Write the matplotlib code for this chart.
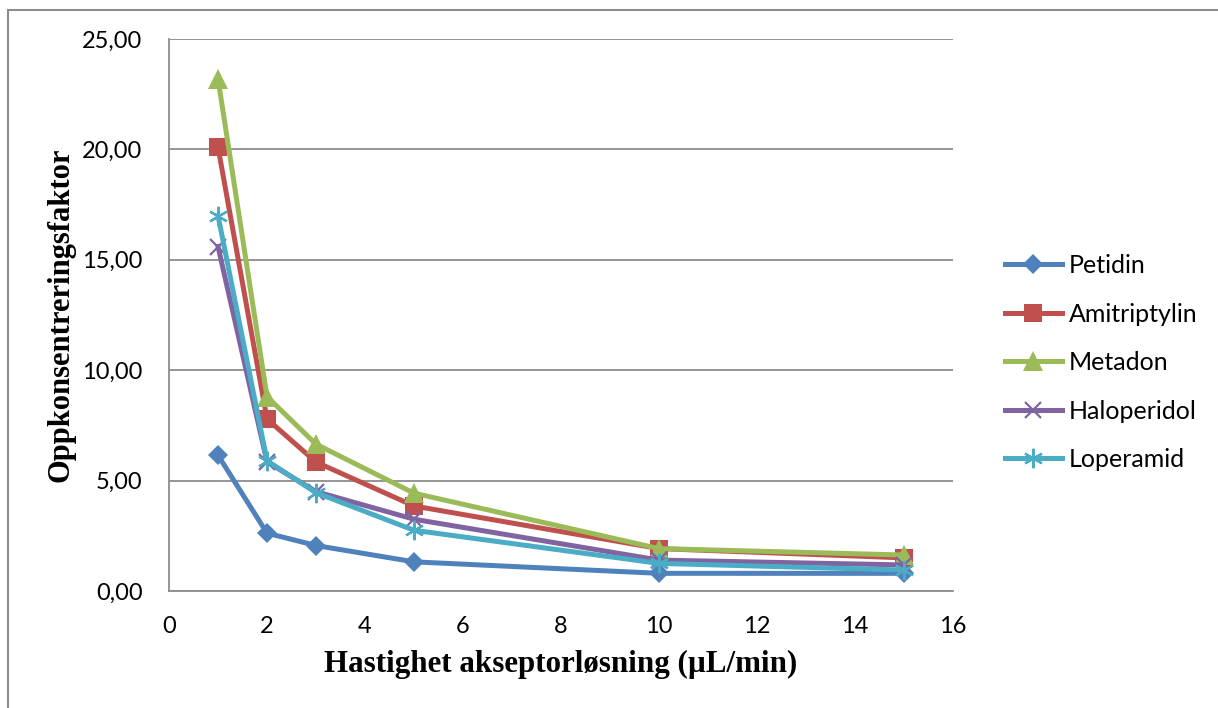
import matplotlib.pyplot as plt
from matplotlib.ticker import FuncFormatter, MultipleLocator
from matplotlib.patches import Rectangle

# ----------------------------------------------------------------------------

x = [1, 2, 3, 5, 10, 15]

petidin = [6.15, 2.62, 2.06, 1.32, 0.80, 0.80]
amitriptylin = [20.1, 7.79, 5.84, 3.85, 1.92, 1.50]
metadon = [23.2, 8.80, 6.65, 4.43, 1.92, 1.63]
haloperidol = [15.6, 5.85, 4.50, 3.25, 1.40, 1.18]
loperamid = [17.0, 5.90, 4.45, 2.75, 1.25, 0.95]

series = [
    ("Petidin", petidin, "#4F81BD", "D", 10),
    ("Amitriptylin", amitriptylin, "#C0504D", "s", 13),
    ("Metadon", metadon, "#9BBB59", "^", 14),
    ("Haloperidol", haloperidol, "#8064A2", "x", 12),
    ("Loperamid", loperamid, "#4BACC6", (6, 2, 0), 14),
]

# ----------------------------------------------------------------------------

fig = plt.figure(figsize=(12.18, 7.08), dpi=100)
# outer chart border (runs off the right and bottom edges)
fig.patches.append(Rectangle((8 / 1218, -0.1), 1.2, 1.1 - 10 / 708,
                             transform=fig.transFigure, fill=False,
                             edgecolor="#8c8c8c", linewidth=1.5))

ax = fig.add_axes([169 / 1218, 1 - 591 / 708, (953 - 169) / 1218, (591 - 39) / 708])

for name, vals, col, mk, ms in series:
    mew = 1.6 if mk in ("x", (6, 2, 0)) else 0
    ax.plot(x, vals, color=col, linewidth=3.6, marker=mk, markersize=ms,
            markeredgewidth=mew, markeredgecolor=col, label=name)

ax.set_xlim(0, 16)
ax.set_ylim(0, 25)
ax.xaxis.set_major_locator(MultipleLocator(2))
ax.yaxis.set_major_locator(MultipleLocator(5))
ax.yaxis.set_major_formatter(FuncFormatter(lambda v, p: f"{v:.2f}".replace(".", ",")))
ax.grid(axis="y", color="#8c8c8c", linewidth=1.3)
ax.set_axisbelow(True)
for s in ("top", "right"):
    ax.spines[s].set_visible(False)
for s in ("left", "bottom"):
    ax.spines[s].set_color("#8c8c8c")
    ax.spines[s].set_linewidth(1.3)
ax.tick_params(axis="y", length=0, labelsize=17, pad=19)
ax.tick_params(axis="x", length=0, labelsize=17, pad=18)
for lab in ax.get_xticklabels() + ax.get_yticklabels():
    lab.set_family("Lato")

ax.set_xlabel("Hastighet akseptorløsning (µL/min)", fontsize=22.3, fontweight="bold",
              family="Liberation Serif", labelpad=9)
ax.set_ylabel("Oppkonsentreringsfaktor", fontsize=22, fontweight="bold",
              family="Liberation Serif", labelpad=5)

leg = ax.legend(loc="upper left", bbox_to_anchor=(1.066, 0.6105), frameon=False,
                prop={"family": "Lato", "size": 18}, labelspacing=1.02,
                handlelength=2.3, handletextpad=0.25, borderaxespad=0, borderpad=0)

fig.savefig("out.png", dpi=100)
